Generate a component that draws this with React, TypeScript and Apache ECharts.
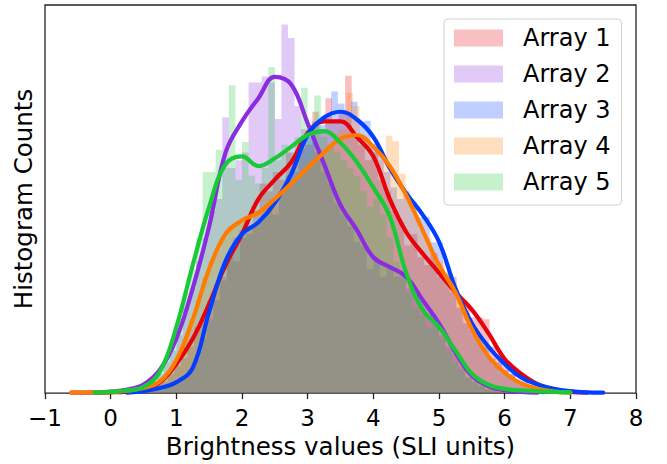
import React, { useEffect, useRef } from 'react';
import * as echarts from 'echarts';

const seriesNames = ['Array 1', 'Array 2', 'Array 3', 'Array 4', 'Array 5'];
const lineColors = ['#e8000b', '#8b2be2', '#023eff', '#ff7c00', '#1ac938'];
const histAlpha = 0.25;
const binWidth = 0.1;
const histStart = [0.47, 0.2, 0.56, 0.49, 0.3];

const hist1 = [1, 0, 2, 3, 5, 7, 9, 12, 17, 19, 24, 28, 29, 36, 34, 40, 43, 47, 54, 52, 57, 55, 62, 60, 66, 64, 72.5, 68, 76, 70, 72, 81.8, 66, 64, 60, 62, 55, 52, 47, 44, 38, 41, 35, 33, 36, 30, 30, 30, 24, 23, 19.5, 19.5, 19, 12, 10, 7, 5, 3, 2, 1, 1];
const hist2 = [1, 0, 1, 2, 3, 5, 8, 11, 15, 22, 27, 34, 40, 47, 50, 71, 58, 60, 62, 80, 80, 81.6, 80, 70.6, 95, 91.5, 74, 68, 66, 62, 57, 54, 49, 46, 43, 39, 38, 32, 34, 30, 33, 30, 31, 27, 26, 22, 20, 18, 15, 12, 10, 7, 4, 3, 2, 1, 1];
const hist3 = [1, 1, 2, 2, 3, 4, 6, 9, 14, 19, 24, 30, 35, 40, 42, 41, 43, 45, 47, 46, 52, 56, 57, 63, 66, 70, 69, 72, 77.7, 74.6, 72, 75.1, 69.7, 70.2, 64.2, 62, 57, 53, 50, 52, 49.3, 45.4, 45.4, 38.9, 38.9, 31, 26, 22, 18, 16, 13, 12, 9, 8, 6, 5, 3, 3, 2, 1, 1, 0, 1];
const hist4 = [1, 2, 2, 4, 6, 9, 14, 19, 24, 30, 34, 37, 40, 43, 44, 45, 43, 44, 48, 50, 48, 53, 55, 54, 58, 60, 62, 63, 64, 67, 68, 77.4, 74, 66, 64, 62, 60, 66.3, 64.9, 56.5, 49.7, 46, 42, 40, 36, 34, 30, 27, 22, 18, 15, 12, 9, 7, 5, 4, 3, 2, 1, 1];
const hist5 = [1, 1, 2, 3, 5, 9, 12, 19, 26, 32, 40, 57, 57, 62.7, 58, 79.3, 55, 64.7, 56, 54, 58, 84, 60, 64, 62, 66, 78.7, 68, 76.7, 66, 64, 62, 60, 58, 56, 52, 48, 50, 46, 40, 34, 30, 26, 22, 20, 17, 18, 14, 11, 8, 6, 4, 3, 2, 1, 1, 0, 1];

const kdeX = [-0.6, -0.25, 0, 0.25, 0.5, 0.75, 1, 1.25, 1.5, 1.75, 2, 2.25, 2.5, 2.75, 3, 3.25, 3.5, 3.75, 4, 4.25, 4.5, 4.75, 5, 5.25, 5.5, 5.75, 6, 6.25, 6.5, 6.75, 7, 7.25, 7.5];
const kde1 = [null, 0.1, 0.2, 0.4, 1.0, 2.8, 7.5, 14, 23, 33, 41, 50, 55, 59.5, 67, 70, 70, 66, 61, 50, 41.5, 36, 31, 26, 21.5, 15.5, 8.8, 5, 2.3, 0.9, 0.3, 0.1, null];
const kde2 = [0.1, 0.2, 0.4, 0.9, 2.2, 6, 14, 27, 43, 62, 70, 76, 81.5, 79.5, 69.5, 59, 48.5, 42, 35, 32.5, 30, 24, 18, 10.5, 4.5, 1.8, 0.8, 0.3, 0.1, null, null, null, null];
const kde3 = [null, null, null, 0.1, 0.5, 1.3, 2.8, 6.5, 21, 34, 41, 44, 49, 56.5, 66.5, 71, 72.5, 70.5, 66, 58, 51.5, 46, 39, 27, 18, 12, 7.5, 4, 2.2, 1.1, 0.5, 0.2, 0.1];
const kde4 = [0.1, 0.2, 0.3, 0.6, 1.3, 3, 8.5, 19, 32, 41, 44.5, 46.5, 50, 54, 58, 62, 65.5, 66.5, 63.5, 58.5, 51, 42, 33, 26, 16.5, 9.5, 5.2, 2.5, 1.1, 0.4, 0.1, null, null];
const kde5 = [null, 0.1, 0.3, 0.7, 1.6, 5.5, 17, 33, 48, 59, 61, 58.5, 60.5, 63.5, 66.5, 67.5, 64.5, 59.5, 53, 45.5, 31, 21.5, 17, 11, 5, 2.2, 1.1, 0.7, 0.5, 0.3, 0.2, null, null];

const hists = [hist1, hist2, hist3, hist4, hist5];
const kdes = [kde1, kde2, kde3, kde4, kde5];

const FONT = 'DejaVu Sans';

function hexToRgba(hex: string, a: number) {
  const r = parseInt(hex.slice(1, 3), 16);
  const g = parseInt(hex.slice(3, 5), 16);
  const b = parseInt(hex.slice(5, 7), 16);
  return `rgba(${r},${g},${b},${a})`;
}

function histData(start: number, values: number[]) {
  const pts: number[][] = values.map((v, i) => [+(start + i * binWidth).toFixed(4), v]);
  const end = +(start + values.length * binWidth).toFixed(4);
  pts.push([end, values[values.length - 1]]);
  return pts;
}

function kdeData(values: (number | null)[]) {
  const pts: number[][] = [];
  values.forEach((v, i) => {
    if (v !== null) pts.push([kdeX[i], v]);
  });
  return pts;
}

export default function App() {
  const ref = useRef<HTMLDivElement>(null);
  useEffect(() => {
    if (!ref.current) return;
    const chart = echarts.init(ref.current, null, { renderer: 'svg' });
    const series: any[] = [];
    seriesNames.forEach((name, i) => {
      series.push({
        name,
        type: 'line',
        step: 'end',
        data: histData(histStart[i], hists[i]),
        showSymbol: false,
        symbol: 'none',
        lineStyle: { width: 0, opacity: 0 },
        areaStyle: { color: lineColors[i], opacity: histAlpha },
        itemStyle: { color: lineColors[i] },
        silent: true,
        z: 1,
      });
    });
    seriesNames.forEach((name, i) => {
      series.push({
        name: name + ' KDE',
        type: 'line',
        smooth: 0.4,
        data: kdeData(kdes[i]),
        showSymbol: false,
        symbol: 'none',
        lineStyle: { width: 4.2, color: lineColors[i], cap: 'round', join: 'round' },
        itemStyle: { color: lineColors[i] },
        silent: true,
        z: 2,
      });
    });
    chart.setOption({
      animation: false,
      grid: {
        left: 45,
        top: 5,
        width: 591,
        height: 391,
        show: true,
        borderColor: '#222',
        borderWidth: 1.3,
        backgroundColor: 'transparent',
      },
      legend: {
        left: 444,
        top: 19,
        orient: 'vertical',
        data: seriesNames.map((n, i) => ({
          name: n,
          icon: 'rect',
          itemStyle: { color: hexToRgba(lineColors[i], histAlpha) },
        })),
        itemWidth: 49,
        itemHeight: 17,
        itemGap: 12,
        padding: [7, 11, 11, 10],
        backgroundColor: 'rgba(255,255,255,0.8)',
        borderColor: '#d0d0d0',
        borderWidth: 1,
        borderRadius: 4,
        selectedMode: false,
        textStyle: {
          fontFamily: FONT,
          fontSize: 24,
          lineHeight: 24,
          color: '#000',
          padding: [0, 0, 0, 15],
        },
      },
      xAxis: {
        type: 'value',
        min: -1,
        max: 8,
        interval: 1,
        name: 'Brightness values (SLI units)',
        nameLocation: 'middle',
        nameGap: 40,
        nameTextStyle: { fontFamily: FONT, fontSize: 24.5, color: '#000' },
        axisLine: { show: false },
        axisTick: { show: true, length: 6, lineStyle: { color: '#222', width: 1.3 } },
        axisLabel: {
          fontFamily: FONT,
          fontSize: 23,
          color: '#000',
          margin: 13,
          formatter: (v: number) => (v < 0 ? '\u2212' + Math.abs(v) : String(v)),
        },
        splitLine: { show: false },
      },
      yAxis: {
        type: 'value',
        min: 0,
        max: 100,
        name: 'Histogram Counts',
        nameLocation: 'middle',
        nameGap: 9,
        nameRotate: 90,
        nameTextStyle: { fontFamily: FONT, fontSize: 24.5, color: '#000' },
        axisLine: { show: false },
        axisTick: { show: false },
        axisLabel: { show: false },
        splitLine: { show: false },
      },
      series,
    });
    return () => chart.dispose();
  }, []);
  return (
    <div
      ref={ref}
      style={{ position: 'absolute', left: 0, top: 0, width: 667, height: 464 }}
    />
  );
}
